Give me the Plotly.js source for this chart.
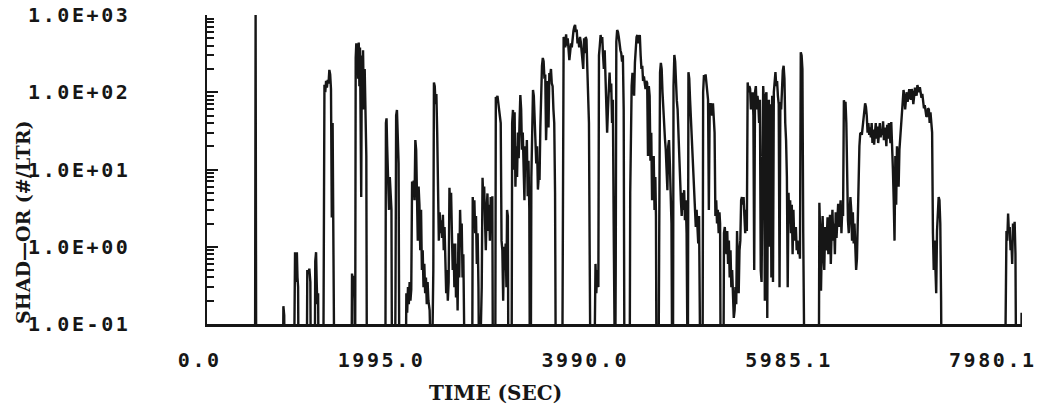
<!DOCTYPE html>
<html>
<head>
<meta charset="utf-8">
<script src="https://cdn.plot.ly/plotly-3.0.1.min.js"></script>
<style>
html, body { margin: 0; padding: 0; background: #fff; }
#chart { width: 1050px; height: 417px; }
.xtick text, .ytick text { letter-spacing: 2.6px; }
</style>
</head>
<body>
<div id="chart"></div>
<script>
// Z marks "below detection" (drawn as a drop to the baseline)
const Z = 0.01;

const timeSec = [
0,470,476,482,742,748,756,762,850,856,862,868,874,880,886,892,898,976,982,992,1002,1012,1018,1054,1060,1068,1074,1080,1088,1094,
1138,1142,1150,1158,1166,1174,1182,1190,1198,1206,1214,1222,1230,1236,1242,1248,1414,1420,1428,1436,1444,1450,1456,1462,1468,1474,1480,1486,1492,1498,
1504,1510,1516,1522,1528,1536,1544,1552,1560,1566,1746,1752,1758,1764,1770,1776,1782,1790,1798,1806,1812,1840,1846,1852,1860,1868,1876,1884,1944,1952,
1960,1968,1976,1984,1992,2000,2008,2016,2024,2032,2040,2048,2056,2064,2072,2080,2088,2096,2104,2112,2120,2128,2136,2144,2152,2160,2168,2180,2200,2216,
2222,2230,2238,2246,2254,2262,2270,2278,2286,2294,2302,2310,2318,2326,2334,2342,2350,2358,2366,2374,2382,2390,2398,2406,2414,2422,2430,2438,2446,2454,
2462,2470,2478,2486,2494,2502,2510,2518,2526,2596,2602,2610,2618,2626,2634,2642,2650,2658,2666,2690,2698,2706,2714,2722,2730,2738,2746,2754,2762,2770,
2778,2786,2794,2800,2822,2828,2836,2844,2852,2860,2868,2876,2884,2892,2900,2908,2916,2924,2932,2938,2946,2952,2982,2988,2996,3004,3012,3020,3028,3036,
3044,3052,3060,3068,3076,3084,3092,3100,3108,3116,3124,3132,3140,3148,3156,3162,3170,3176,3184,3192,3200,3208,3216,3224,3232,3240,3248,3256,3264,3272,
3280,3288,3296,3304,3312,3320,3328,3336,3344,3352,3360,3368,3376,3384,3392,3400,3408,3416,3478,3484,3492,3500,3508,3516,3524,3532,3540,3548,3556,3564,
3572,3580,3588,3596,3604,3612,3620,3628,3636,3644,3652,3660,3668,3676,3684,3692,3700,3708,3716,3724,3732,3740,3748,3756,3790,3796,3804,3812,3820,3832,
3838,3846,3854,3862,3870,3878,3886,3894,3902,3910,3918,3926,3934,3942,3950,3958,3966,3974,3982,3990,3996,4002,4008,4016,4024,4032,4040,4048,4056,4064,
4072,4080,4088,4138,4144,4150,4158,4166,4174,4182,4190,4198,4206,4214,4222,4230,4238,4246,4254,4262,4270,4278,4286,4294,4302,4310,4318,4326,4334,4342,
4350,4358,4366,4374,4382,4390,4396,4402,4420,4428,4436,4444,4452,4460,4468,4476,4484,4492,4500,4508,4516,4524,4532,4540,4548,4556,4562,4568,4576,4584,
4592,4600,4608,4616,4624,4632,4640,4648,4656,4664,4672,4680,4688,4696,4702,4708,4714,4722,4730,4738,4746,4754,4762,4770,4778,4786,4794,4802,4810,4818,
4826,4832,4852,4858,4866,4874,4882,4890,4898,4906,4914,4922,4930,4938,4946,4954,4962,4970,4978,4986,4994,5002,5010,5018,5024,5030,5056,5062,5070,5078,
5086,5094,5102,5110,5118,5126,5134,5142,5150,5158,5166,5174,5182,5190,5198,5206,5214,5222,5230,5238,5246,5254,5262,5270,5278,5286,5294,5302,5310,5318,
5326,5334,5342,5350,5358,5366,5374,5382,5390,5398,5406,5414,5422,5430,5438,5446,5454,5462,5470,5478,5486,5494,5502,5510,5518,5526,5534,5542,5550,5558,
5566,5574,5582,5590,5598,5606,5614,5622,5630,5638,5646,5654,5662,5670,5678,5686,5694,5702,5710,5718,5726,5734,5742,5750,5758,5766,5774,5782,5790,5798,
5806,5814,5822,5830,5838,5846,5852,5990,5996,6004,6012,6020,6028,6036,6044,6052,6060,6068,6076,6084,6092,6100,6108,6116,6124,6132,6140,6148,6156,6164,
6172,6180,6188,6196,6204,6212,6220,6228,6236,6244,6252,6260,6268,6276,6284,6292,6300,6308,6316,6324,6332,6340,6348,6356,6364,6372,6380,6388,6396,6404,
6412,6420,6428,6436,6444,6452,6460,6468,6476,6484,6492,6500,6508,6516,6524,6532,6540,6548,6556,6564,6572,6580,6588,6596,6604,6612,6620,6628,6636,6644,
6652,6660,6668,6676,6684,6692,6700,6708,6716,6724,6732,6740,6748,6756,6764,6772,6780,6788,6796,6804,6812,6820,6828,6836,6844,6852,6860,6868,6876,6884,
6892,6900,6908,6916,6924,6932,6940,6948,6956,6964,6972,6980,6988,6996,7004,7012,7020,7028,7036,7044,7052,7060,7068,7076,7084,7092,7100,7108,7116,7124,
7132,7140,7148,7156,7164,7172,7180,7188,7194,7812,7820,7828,7836,7844,7852,7860,7868,7876,7884,7892,7900,7908,7916,7924,7970,7976,7980
];

const shadOr = [
Z,Z,1000,Z,Z,0.17,0.13,Z,Z,0.55,0.85,0.35,0.7,0.85,0.4,0.3,Z,Z,0.5,0.45,0.52,0.35,Z,Z,0.65,0.85,0.35,0.18,0.25,Z,
Z,0.4,125,100,140,115,145,130,195,170,110,2.4,40,2.4,0.3,Z,Z,0.45,0.3,0.42,0.2,Z,280,430,220,400,150,440,120,380,
45,4.4,300,90,350,60,200,80,15,Z,Z,40,46,20,10,5.4,3,8,4,3,Z,Z,0.3,50,59,25,12,Z,Z,0.25,
0.14,0.3,0.18,0.35,0.2,0.28,7,5,7.2,4,24,18,3,1.2,6,3.5,0.9,3,0.5,0.9,0.3,0.6,0.25,0.4,0.18,0.35,0.2,0.15,Z,0.5,
134,120,70,95,30,2.5,1.2,2.8,1.5,2.2,1.3,2.6,0.9,1.8,0.4,0.25,0.5,0.2,0.35,5.8,3,5,1.5,0.5,1.1,0.3,1.1,0.22,0.6,0.15,
1.5,0.4,3,1.2,2,0.4,0.8,0.25,Z,Z,4.4,1.8,4,1.5,2.5,0.6,1.5,0.3,Z,0.3,7.8,4,6,2.2,0.9,3,4.9,1.6,3.5,1.2,
4.4,2.2,4.5,Z,Z,87,80,90,70,60,44,40,1.2,0.9,0.2,1,0.5,1.1,0.3,3,2.5,Z,Z,40,59,9.9,55,6,20,8,
30,14,40,92,60,18,30,13,4,20,10,24,4.5,13,3,Z,Z,8,60,107,90,40,30,12,20,5.5,8,7.3,35,150,
220,278,250,150,170,24,90,140,35,178,160,200,130,120,60,40,5,Z,Z,20,520,480,380,560,400,500,300,260,330,430,
380,560,620,700,742,600,650,430,500,380,520,450,320,280,200,500,320,520,480,200,48,40,0.5,Z,Z,0.3,0.6,0.25,0.5,0.3,
300,400,551,450,520,300,200,350,140,100,30,60,140,180,100,130,40,80,2,0.2,Z,0.5,450,640,600,520,400,350,320,250,
300,60,Z,Z,5,29,120,178,140,90,240,400,520,550,430,500,551,300,200,220,140,160,130,110,140,132,15,120,90,13,
30,4,12,15,3,8,2.5,Z,Z,60,180,240,200,100,59,30,25,18,8,5.4,20,24,12,5.4,2,Z,Z,120,304,250,
100,79,60,28,18,5.4,4,2.5,5,3,5.4,2.2,4,1.5,Z,Z,182,150,80,44,25,18,7,5.4,2.5,1.8,3,1.3,1.1,2.5,
0.8,Z,Z,100,167,150,170,140,100,80,3,60,72,60,50,72,45,30,2.5,4,2,3,1.5,2.8,2,Z,Z,1.5,1.8,1.2,
0.8,1.6,0.6,1.2,0.4,0.9,0.3,0.5,0.2,0.12,0.15,0.3,0.18,1.6,0.6,0.25,0.9,1.2,4,4.4,3.5,4.4,2.5,1.5,3,1.6,134,100,120,110,
60,80,100,50,0.5,100,120,60,90,70,40,80,0.5,0.35,80,120,70,0.2,90,100,0.12,60,80,1,70,0.4,90,0.35,100,150,
182,120,140,90,70,0.3,75,60,150,190,220,150,40,24,8,0.3,5,2,4,1.5,3.5,0.8,3,1.2,1.4,1.8,0.9,1.2,0.8,1,
0.7,330,300,200,1.5,0.3,Z,Z,3.7,1.5,0.27,1.2,2.5,0.8,0.5,1.8,0.9,1.2,2.4,0.8,1.1,2.6,0.6,1.5,3,1.2,2,0.8,2.8,1.3,
2.5,3.6,1.8,3.5,4,1.5,3,2.5,79,70,75,40,4,2.2,1.5,3.5,4.4,3,1.2,2.8,1.1,2,0.9,0.5,0.7,2.4,7,20,29,30,
28,36,44,60,72,65,50,30,40,28,35,26,40,22,33,21,30,40,25,36,22,32,40,26,33,28,42,24,35,30,
20,38,25,40,30,22,41,25,10,4,1.2,15,3.5,20,8,6,18,26,40,70,80,107,90,60,80,100,75,95,110,90,
80,110,96,70,85,115,100,90,124,110,100,116,100,85,95,75,62,68,55,48,50,62,60,40,55,44,30,1.5,0.5,1.2,
0.4,0.25,1.6,3,4.4,4,2,0.2,Z,Z,0.5,1.6,1.2,2.7,1.5,1.8,0.9,1.2,0.6,2,1.4,2.1,0.8,Z,Z,0.14,Z
];

const xTickVals = [0, 1995.0, 3990.0, 5985.1, 7980.1];
const xTickText = ['0.0', '1995.0', '3990.0', '5985.1', '7980.1'];
const yTickVals = [0.1, 1, 10, 100, 1000];
const yTickText = ['1.0E-01', '1.0E+00', '1.0E+01', '1.0E+02', '1.0E+03'];
const xTitle = 'TIME (SEC)';
const yTitle = 'SHAD\u2014OR (#/LTR)';

const minorVals = [];
for (let d = -1; d <= 2; d++) {
  for (let k = 2; k <= 9; k++) minorVals.push(k * Math.pow(10, d));
}

const ink = '#161616';
const tickFont = { family: 'DejaVu Sans Mono, monospace', size: 20, color: ink, weight: 'bold' };
const titleFont = { family: 'DejaVu Serif, serif', size: 19, color: ink, weight: 'bold' };

const trace = {
  type: 'scatter',
  mode: 'lines',
  x: timeSec,
  y: shadOr,
  line: { color: ink, width: 2.4 },
  hoverinfo: 'skip'
};

const layout = {
  width: 1050,
  height: 417,
  margin: { l: 207, r: 28, t: 15, b: 93 },
  paper_bgcolor: '#ffffff',
  plot_bgcolor: '#ffffff',
  showlegend: false,
  xaxis: {
    range: [0, 7980.1],
    showgrid: false,
    zeroline: false,
    showline: true,
    linecolor: ink,
    linewidth: 2.5,
    ticks: '',
    tickmode: 'array',
    tickvals: xTickVals,
    ticktext: xTickText,
    tickfont: tickFont,
    ticklabelposition: 'outside left',
    ticklabelshift: 16,
    ticklabelstandoff: 16
  },
  yaxis: {
    type: 'log',
    range: [-1, 3],
    showgrid: false,
    zeroline: false,
    showline: true,
    linecolor: ink,
    linewidth: 2.5,
    ticks: 'inside',
    ticklen: 11,
    tickwidth: 2,
    tickcolor: ink,
    tickmode: 'array',
    tickvals: yTickVals,
    ticktext: yTickText,
    tickfont: tickFont,
    ticklabelstandoff: 70,
    minor: {
      tickmode: 'array',
      tickvals: minorVals,
      ticks: 'inside',
      ticklen: 7,
      tickwidth: 2,
      tickcolor: ink,
      showgrid: false
    }
  },
  annotations: [
    {
      text: xTitle, xref: 'paper', yref: 'paper',
      x: 0.3534, y: -0.2233, xanchor: 'center', yanchor: 'middle',
      showarrow: false, font: Object.assign({}, titleFont, { size: 20 })
    },
    {
      text: yTitle, xref: 'paper', yref: 'paper',
      x: -0.2258, y: 0.33, xanchor: 'center', yanchor: 'middle',
      textangle: -90, showarrow: false, font: titleFont
    }
  ]
};

Plotly.newPlot('chart', [trace], layout, { staticPlot: true, displayModeBar: false });
</script>
</body>
</html>
